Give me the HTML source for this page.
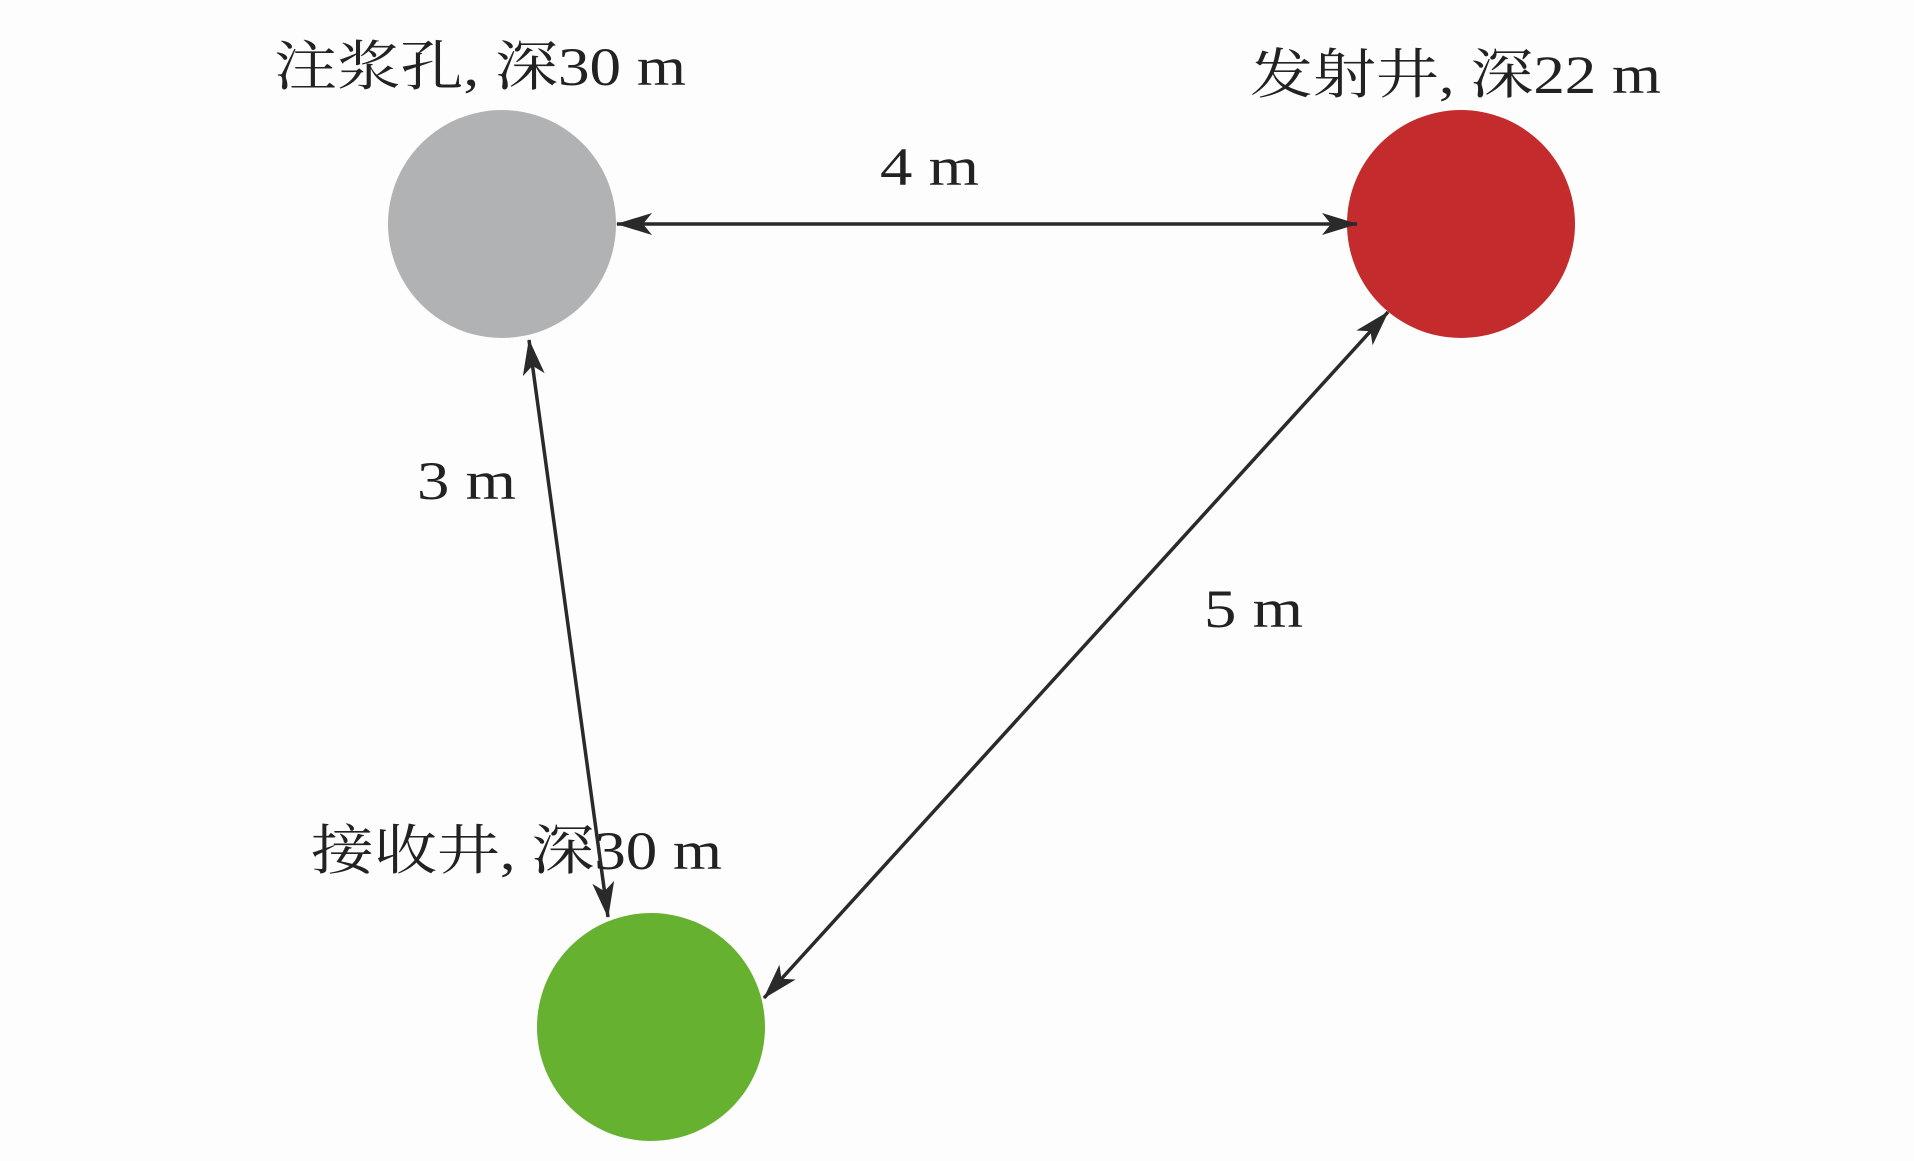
<!DOCTYPE html>
<html><head><meta charset="utf-8"><style>html,body{margin:0;padding:0;background:#fdfdfd}</style></head>
<body>
<svg width="1914" height="1156" viewBox="0 0 1914 1156" xmlns="http://www.w3.org/2000/svg">
<rect width="1914" height="1156" fill="#fdfdfd"/>
<defs>
<marker id="a" viewBox="0 0 36 22" refX="35" refY="11" markerWidth="36" markerHeight="22" markerUnits="userSpaceOnUse" orient="auto-start-reverse">
<path d="M0,0 L36,11 L0,22 L9,11 Z" fill="#2a2a2a"/>
</marker>
</defs>
<circle cx="502" cy="224" r="114" fill="#b1b2b3"/>
<circle cx="1461" cy="224" r="114" fill="#c42b2d"/>
<circle cx="651" cy="1027" r="114" fill="#66b12f"/>
<g stroke="#2a2a2a" stroke-width="3.5" fill="none">
<line x1="617" y1="224" x2="1357" y2="224" marker-start="url(#a)" marker-end="url(#a)"/>
<line x1="529" y1="340" x2="608" y2="917" marker-start="url(#a)" marker-end="url(#a)"/>
<line x1="1388" y1="312" x2="764" y2="998" marker-start="url(#a)" marker-end="url(#a)"/>
</g>
<g font-family="'Liberation Serif','Noto Serif CJK SC',serif" font-size="54" fill="#222">
<text x="274" y="85" textLength="412" lengthAdjust="spacingAndGlyphs">注浆孔, 深30 m</text>
<text x="1250" y="93" textLength="411" lengthAdjust="spacingAndGlyphs">发射井, 深22 m</text>
<text x="311" y="869" textLength="411" lengthAdjust="spacingAndGlyphs">接收井, 深30 m</text>
<text x="880" y="185" textLength="99" lengthAdjust="spacingAndGlyphs">4 m</text>
<text x="417" y="499" textLength="99" lengthAdjust="spacingAndGlyphs">3 m</text>
<text x="1204" y="627" textLength="99" lengthAdjust="spacingAndGlyphs">5 m</text>
</g>
</svg>
</body></html>
